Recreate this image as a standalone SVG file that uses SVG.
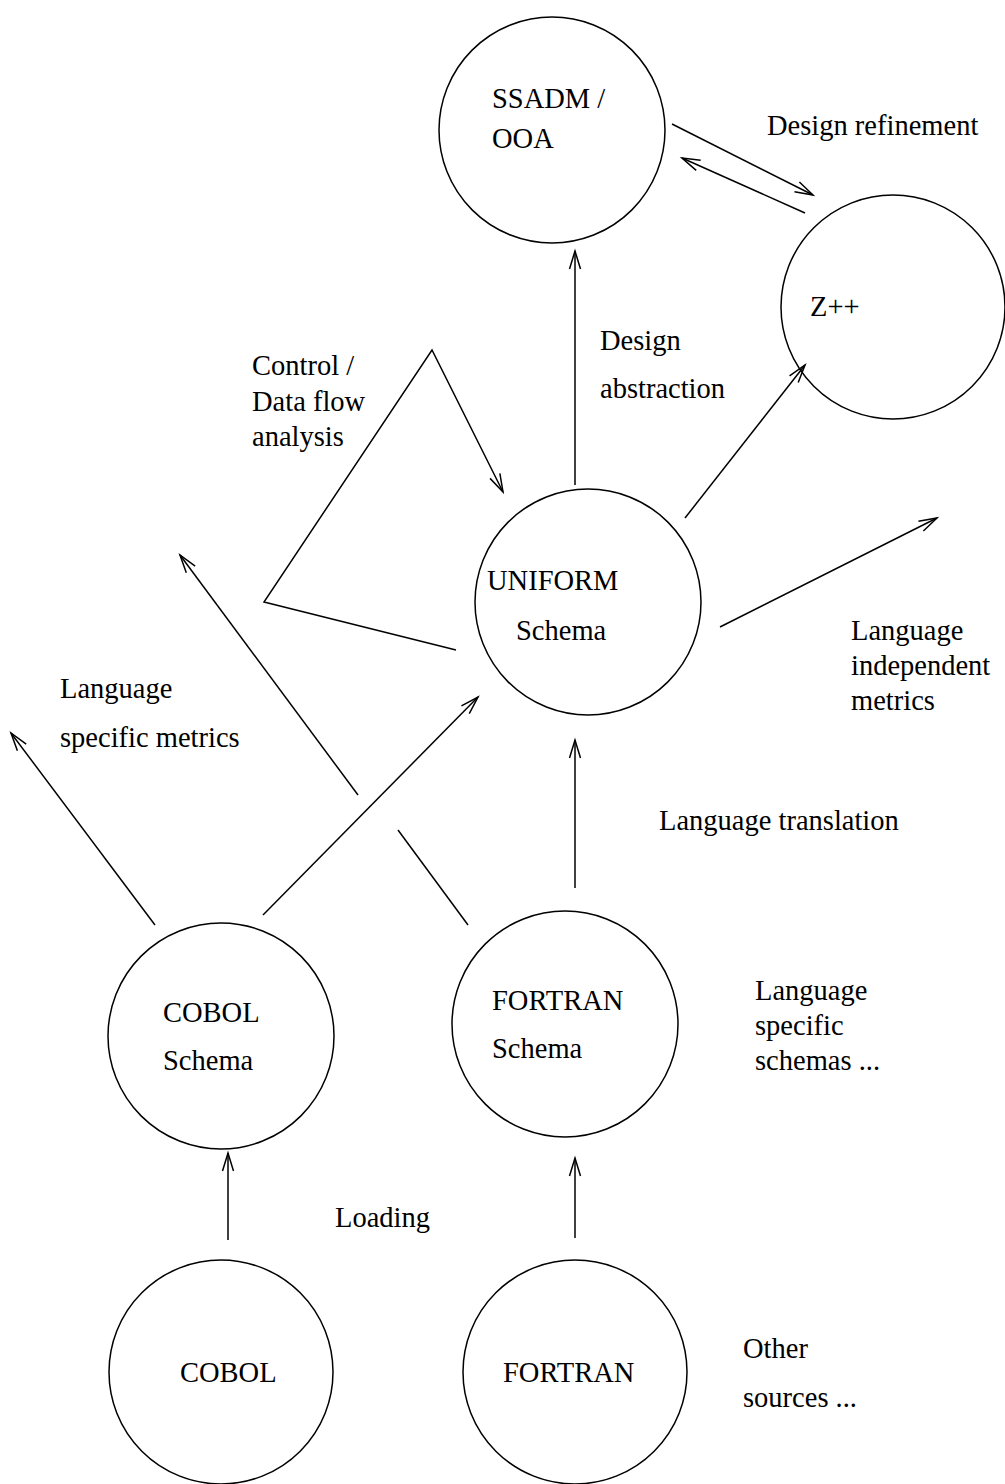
<svg xmlns="http://www.w3.org/2000/svg" width="1005" height="1484" viewBox="0 0 1005 1484">
<style>
.n{fill:none;stroke:#000;stroke-width:1.5}
.c line,.c polyline{fill:none;stroke:#000;stroke-width:1.5}
text{font-family:"Liberation Serif","Times New Roman",serif;font-size:28.5px;fill:#000}
</style>
<defs>
<marker id="a" markerUnits="userSpaceOnUse" markerWidth="24" markerHeight="16" viewBox="-20 -8 24 16" refX="0" refY="0" orient="auto" overflow="visible">
<path d="M-18,-5.5 L0,0 L-18,5.5" fill="none" stroke="#000" stroke-width="1.5"/>
</marker>
</defs>
<g id="ssadm"><circle class="n" cx="552" cy="130" r="113"/><text x="492" y="108">SSADM /</text><text x="492" y="148">OOA</text></g>
<g id="zpp"><circle class="n" cx="893" cy="307" r="112"/><text x="810" y="316">Z++</text></g>
<g id="uniform"><circle class="n" cx="588" cy="602" r="113"/><text x="487" y="590">UNIFORM</text><text x="516" y="640">Schema</text></g>
<g id="cobolschema"><circle class="n" cx="221" cy="1036" r="113"/><text x="163" y="1022">COBOL</text><text x="163" y="1070">Schema</text></g>
<g id="fortranschema"><circle class="n" cx="565" cy="1024" r="113"/><text x="492" y="1010">FORTRAN</text><text x="492" y="1058">Schema</text></g>
<g id="cobol"><circle class="n" cx="221" cy="1372" r="112"/><text x="180" y="1382">COBOL</text></g>
<g id="fortran"><circle class="n" cx="575" cy="1372" r="112"/><text x="503" y="1382">FORTRAN</text></g>
<g id="labels">
<text x="767" y="135">Design refinement</text>
<text x="252" y="375">Control /</text>
<text x="252" y="411">Data flow</text>
<text x="252" y="446">analysis</text>
<text x="600" y="350">Design</text>
<text x="600" y="398">abstraction</text>
<text x="851" y="640">Language</text>
<text x="851" y="675">independent</text>
<text x="851" y="710">metrics</text>
<text x="60" y="698">Language</text>
<text x="60" y="747">specific metrics</text>
<text x="659" y="830">Language translation</text>
<text x="755" y="1000">Language</text>
<text x="755" y="1035">specific</text>
<text x="755" y="1070">schemas ...</text>
<text x="335" y="1227">Loading</text>
<text x="743" y="1358">Other</text>
<text x="743" y="1407">sources ...</text>
</g>
<g class="c" id="connectors">
<line x1="672" y1="124" x2="813" y2="195" marker-end="url(#a)"/>
<line x1="805" y1="213" x2="682" y2="158" marker-end="url(#a)"/>
<line x1="575" y1="485" x2="575" y2="251" marker-end="url(#a)"/>
<polyline points="456,650 264,602 432,350 503,492" marker-end="url(#a)"/>
<line x1="685" y1="518" x2="805" y2="365" marker-end="url(#a)"/>
<line x1="720" y1="627" x2="937" y2="518" marker-end="url(#a)"/>
<line x1="263" y1="915" x2="478" y2="697" marker-end="url(#a)"/>
<line x1="155" y1="925" x2="11" y2="733" marker-end="url(#a)"/>
<line x1="468" y1="925" x2="398" y2="830"/>
<line x1="358" y1="795" x2="180" y2="555" marker-end="url(#a)"/>
<line x1="575" y1="888" x2="575" y2="740" marker-end="url(#a)"/>
<line x1="228" y1="1240" x2="228" y2="1153" marker-end="url(#a)"/>
<line x1="575" y1="1238" x2="575" y2="1158" marker-end="url(#a)"/>
</g>
</svg>
